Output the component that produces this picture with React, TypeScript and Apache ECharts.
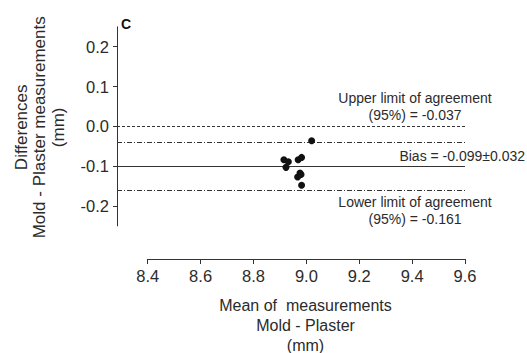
import React, { useEffect, useRef } from "react";
import * as echarts from "echarts";

const meanValues = [9.02, 8.915, 8.932, 8.923, 8.969, 8.982, 8.976, 8.967, 8.98, 8.982];
const diffValues = [-0.036, -0.084, -0.089, -0.103, -0.084, -0.078, -0.117, -0.127, -0.121, -0.148];
const yTicks = [-0.2, -0.1, 0, 0.1, 0.2];
const xTicksMin = 8.4;
const xTicksMax = 9.6;
const xTickStep = 0.2;
const zeroLine = 0;
const upperLimit = -0.037;
const bias = -0.099;
const lowerLimit = -0.161;
const biasSd = 0.032;

const FONT = "Liberation Sans, Arial, sans-serif";
const TEXT = "#2b2b2b";
const LINE = "#333";

export default function App() {
  const ref = useRef<HTMLDivElement>(null);
  useEffect(() => {
    if (!ref.current) return;
    const chart = echarts.init(ref.current, null, { renderer: "svg" });
    const gridLeft = 117;
    const gridRight = 465;
    const axisStart = 147.7;
    const xDataMin = xTicksMin - ((axisStart - gridLeft) / (gridRight - axisStart)) * (xTicksMax - xTicksMin);
    const data = meanValues.map((m, i) => [m, diffValues[i]]);
    chart.setOption({
      animation: false,
      grid: [
        { left: gridLeft, width: gridRight - gridLeft, top: 26.8, height: 199.1 },
        { left: axisStart, width: gridRight - axisStart, top: 249, height: 10 },
      ],
      xAxis: [
        { gridIndex: 0, type: "value", min: xDataMin, max: xTicksMax, show: false },
        {
          gridIndex: 1,
          type: "value",
          min: xTicksMin,
          max: xTicksMax,
          interval: xTickStep,
          axisLine: { show: true, lineStyle: { color: LINE, width: 1 } },
          axisTick: { show: true, length: 5, lineStyle: { color: LINE } },
          axisLabel: {
            color: TEXT,
            fontSize: 16.5,
            fontFamily: FONT,
            margin: 8,
            formatter: (v: number) => v.toFixed(1),
          },
          splitLine: { show: false },
        },
      ],
      yAxis: [
        {
          gridIndex: 0,
          type: "value",
          min: -0.25,
          max: 0.25,
          axisLine: { show: true, lineStyle: { color: LINE, width: 1 } },
          axisTick: { show: true, length: 4, customValues: yTicks, lineStyle: { color: LINE } },
          axisLabel: {
            customValues: yTicks,
            color: TEXT,
            fontSize: 16.5,
            fontFamily: FONT,
            margin: 8,
            formatter: (v: number) => (Math.abs(v) < 1e-9 ? "0.0" : v.toFixed(1)),
          },
          splitLine: { show: false },
        },
        { gridIndex: 1, type: "value", show: false },
      ],
      graphic: [
        {
          type: "text",
          x: 39.5,
          y: 127.3,
          rotation: Math.PI / 2,
          style: {
            text: "Differences\nMold - Plaster measurements\n(mm)",
            fontSize: 17,
            fontFamily: FONT,
            fill: TEXT,
            align: "center",
            verticalAlign: "middle",
            lineHeight: 18.5,
          },
        },
        {
          type: "text",
          x: 305.5,
          y: 325,
          style: {
            text: "Mean of  measurements\nMold - Plaster\n(mm)",
            fontSize: 16,
            fontFamily: FONT,
            fill: TEXT,
            align: "center",
            verticalAlign: "middle",
            lineHeight: 20,
          },
        },
        {
          type: "text",
          x: 121,
          y: 23.5,
          style: {
            text: "C",
            fontSize: 14,
            fontWeight: "bold",
            fontFamily: FONT,
            fill: "#111",
            align: "left",
            verticalAlign: "middle",
          },
        },
        {
          type: "text",
          x: 415,
          y: 106.5,
          style: {
            text: "Upper limit of agreement\n(95%) = " + upperLimit.toFixed(3),
            fontSize: 14,
            fontFamily: FONT,
            fill: TEXT,
            align: "center",
            verticalAlign: "middle",
            lineHeight: 17,
          },
        },
        {
          type: "text",
          x: 525,
          y: 156,
          style: {
            text: "Bias = " + bias.toFixed(3) + "±" + biasSd.toFixed(3),
            fontSize: 14,
            fontFamily: FONT,
            fill: TEXT,
            align: "right",
            verticalAlign: "middle",
          },
        },
        {
          type: "text",
          x: 415,
          y: 210,
          style: {
            text: "Lower limit of agreement\n(95%) = " + lowerLimit.toFixed(3),
            fontSize: 14,
            fontFamily: FONT,
            fill: TEXT,
            align: "center",
            verticalAlign: "middle",
            lineHeight: 17,
          },
        },
      ],
      series: [
        {
          type: "scatter",
          xAxisIndex: 0,
          yAxisIndex: 0,
          data,
          symbolSize: 7,
          itemStyle: { color: "#111", opacity: 1 },
          z: 5,
          markLine: {
            silent: true,
            symbol: "none",
            label: { show: false },
            data: [
              { yAxis: zeroLine, lineStyle: { type: [3, 2], color: LINE, width: 1 } },
              { yAxis: upperLimit, lineStyle: { type: [5, 2, 1, 2], color: LINE, width: 1 } },
              { yAxis: bias, lineStyle: { type: "solid", color: LINE, width: 1 } },
              { yAxis: lowerLimit, lineStyle: { type: [5, 2, 1, 2], color: LINE, width: 1 } },
            ],
          },
        },
      ],
    });
    return () => chart.dispose();
  }, []);
  return <div ref={ref} style={{ width: 527, height: 353, position: "absolute", left: 0, top: 0 }} />;
}
